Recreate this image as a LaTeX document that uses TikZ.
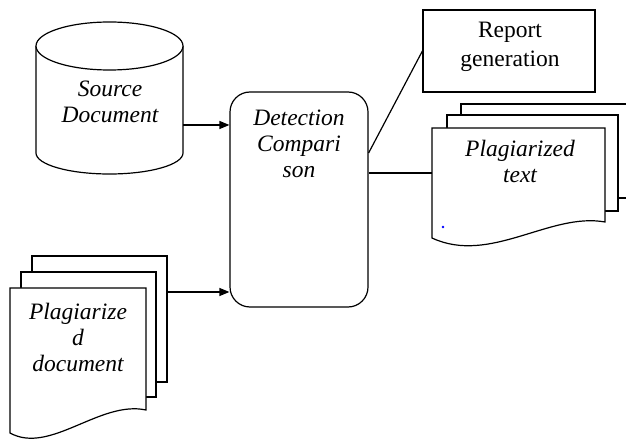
\documentclass[tikz,border=0pt]{standalone}
\usepackage{fontspec}
\setmainfont{Liberation Serif}
\usetikzlibrary{arrows.meta}
\begin{document}
\begin{tikzpicture}[x=1pt,y=-1pt,
  shape line/.style={draw=black,line width=1.2pt,fill=white},
  conn/.style={draw=black,line width=1.2pt},
  arr/.style={conn,-{Triangle[length=10pt,width=8pt]}},
  lbl/.style={align=center,inner sep=0pt,font=\fontsize{23.5}{26}\selectfont\itshape},
  lblup/.style={align=center,inner sep=0pt,font=\fontsize{23.5}{29}\selectfont}]
\useasboundingbox (0,0) rectangle (626,443);
\begin{scope}
\clip (0,0) rectangle (626,443);
% cylinder
\path[shape line] (36,46) -- (36,153) arc[start angle=180,end angle=0,x radius=73.5,y radius=21] -- (183,46);
\path[shape line] (109.5,46) ellipse[x radius=73.5,y radius=24];
\coordinate (srcOut) at (183,125);
\node[lbl] (src) at (110,102) {Source\\Document};
% detection box
\node[shape line,rounded corners=20pt,minimum width=138pt,minimum height=215pt,inner sep=0pt] (det) at (299,199.5) {};
\node[lbl,anchor=north] (dettext) at (299,110) {Detection\\Compari\\son};
% report box
\node[draw=black,line width=1.2pt,minimum width=172pt,minimum height=82pt,inner sep=0pt] (rep) at (509,51) {};
\node[lblup] (reptext) at (510,47) {Report\\generation};
% plagiarized text pages
\path[shape line] (461,104) rectangle (645,198);
\path[shape line] (447,115) rectangle (618,211);
\path[shape line] (432,128) -- (605,128) -- (605,222) .. controls (550,212) and (490,265) .. (432,238) -- cycle;
\coordinate (ptIn) at (432,173);
\node[lbl] (pt) at (520,161) {Plagiarized\\text};
\fill[blue] (443,227) circle (1.3pt);
% plagiarized document pages
\path[shape line] (32,256) rectangle (167,382);
\path[shape line] (21,272) rectangle (156,397);
\path[shape line] (10,288) -- (146,288) -- (146,410) .. controls (100,400) and (50,455) .. (10,433) -- cycle;
\coordinate (pdOut) at (167,292);
\node[lbl] (pd) at (78,337) {Plagiarize\\d\\document};
% connectors
\draw[arr] (srcOut) -- (srcOut -| det.west);
\draw[arr] (pdOut) -- (pdOut -| det.west);
\coordinate (detR1) at (det.east |- 0,153);
\coordinate (detR2) at (det.east |- 0,173);
\draw[conn] (detR1) -- (rep.west);
\draw[conn] (detR2) -- (ptIn);
\end{scope}
\end{tikzpicture}
\end{document}
